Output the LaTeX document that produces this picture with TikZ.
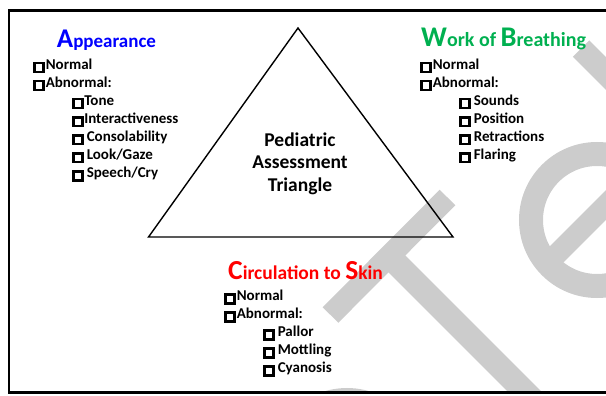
\documentclass[tikz,border=0pt]{standalone}
\usepackage{fontspec}
\setmainfont{Carlito}
\definecolor{apblue}{RGB}{0,0,255}
\definecolor{wobgreen}{RGB}{0,176,80}
\definecolor{ctsred}{RGB}{255,0,0}
\definecolor{wmgray}{RGB}{204,204,204}
\newcommand\cbx{\raisebox{-1.4pt}{\setlength\fboxrule{2.6pt}\setlength\fboxsep{0pt}\fbox{\rule{6.4pt}{0pt}\rule{0pt}{6.4pt}}}}
\newcommand\BigL[2][27]{{\fontsize{#1}{#1}\selectfont #2}}
\newcommand\SmL[2][19]{{\fontsize{#1}{#1}\selectfont #2}}
\tikzset{
  x=1pt, y=-1pt,
  item/.style={anchor=base west, inner sep=0pt, font=\bfseries\fontsize{15}{15}\selectfont},
  head/.style={anchor=base west, inner sep=0pt, font=\bfseries},
  ctr/.style={anchor=base, inner sep=0pt, font=\bfseries\fontsize{19.5}{19.5}\selectfont},
  wm/.style={draw=wmgray, line cap=butt},
}
\begin{document}
\begin{tikzpicture}
\useasboundingbox (0,0) rectangle (606,396);
% watermark
\begin{scope}
  \clip (9,10.5) rectangle (606,392.5);
  \coordinate (tb1) at (330.5,315);
  \coordinate (tb2) at (447.5,197.5);
  \coordinate (ts1) at (389,256);
  \coordinate (ts2) at (570,437);
  \coordinate (rb1) at (581,48.5);
  \coordinate (rb2) at (680,147.5);
  \coordinate (ec) at (597,220);
  \coordinate (ex1) at (552,259);
  \coordinate (ex2) at (680,131);
  \coordinate (bc) at (347,466);
  \draw[wm, line width=22] (tb1) -- (tb2);
  \draw[wm, line width=24] (ts1) -- (ts2);
  \draw[wm, line width=23] (rb1) -- (rb2);
  \draw[wm, line width=24] (ec) circle[radius=66];
  \draw[wm, line width=21] (ex1) -- (ex2);
  \draw[wm, line width=24] (bc) circle[radius=66];
\end{scope}
% frame
\draw[line width=2.6] (9,10.5) rectangle (620,392.5);
% triangle
\coordinate (apex) at (298,28);
\coordinate (bl) at (148.5,237);
\coordinate (br) at (453,237);
\draw[line width=1.4, line join=miter] (apex) -- (bl) -- (br) -- cycle;
% centre text
\node[ctr] (c1) at (300,146.7) {Pediatric};
\node[ctr] (c2) at (300,168.5) {Assessment};
\node[ctr] (c3) at (300,191.5) {Triangle};
% Appearance
\node[head, text=apblue] (hA) at (56.7,47.3) {\BigL{A}\SmL{ppearance}};
\node[item] (a1) at (33,69.5) {\cbx\hspace{1pt}Normal};
\node[item] (a2) at (33,87.5) {\cbx\hspace{1pt}Abnormal:};
\node[item] (a3) at (72,105.5) {\cbx\hspace{0.5pt}Tone};
\node[item] (a4) at (72,123.5) {\cbx\hspace{0.5pt}Interactiveness};
\node[item] (a5) at (72,141.5) {\cbx\hspace{3pt}Consolability};
\node[item] (a6) at (72,159.5) {\cbx\hspace{3pt}Look/Gaze};
\node[item] (a7) at (72,177.5) {\cbx\hspace{3pt}Speech/Cry};
% Work of Breathing
\node[head, text=wobgreen] (hW) at (421,46.7) {\BigL[28.5]{W}\SmL[20]{ork of }\BigL[28.5]{B}\SmL[20]{reathing}};
\node[item] (w1) at (420,69.5) {\cbx\hspace{1pt}Normal};
\node[item] (w2) at (420,87.5) {\cbx\hspace{1pt}Abnormal:};
\node[item] (w3) at (459,105.5) {\cbx\hspace{3pt}Sounds};
\node[item] (w4) at (459,123.5) {\cbx\hspace{3pt}Position};
\node[item] (w5) at (459,141.5) {\cbx\hspace{3pt}Retractions};
\node[item] (w6) at (459,159.5) {\cbx\hspace{3pt}Flaring};
% Circulation to Skin
\node[head, text=ctsred] (hC) at (228,279) {\BigL[27.5]{C}\SmL[19.5]{irculation to }\BigL[27.5]{S}\SmL[19.5]{kin}};
\node[item] (s1) at (224,300.7) {\cbx\hspace{1pt}Normal};
\node[item] (s2) at (224,318.7) {\cbx\hspace{1pt}Abnormal:};
\node[item] (s3) at (263,336.7) {\cbx\hspace{3pt}Pallor};
\node[item] (s4) at (263,354.7) {\cbx\hspace{3pt}Mottling};
\node[item] (s5) at (263,372.7) {\cbx\hspace{3pt}Cyanosis};
\end{tikzpicture}
\end{document}
